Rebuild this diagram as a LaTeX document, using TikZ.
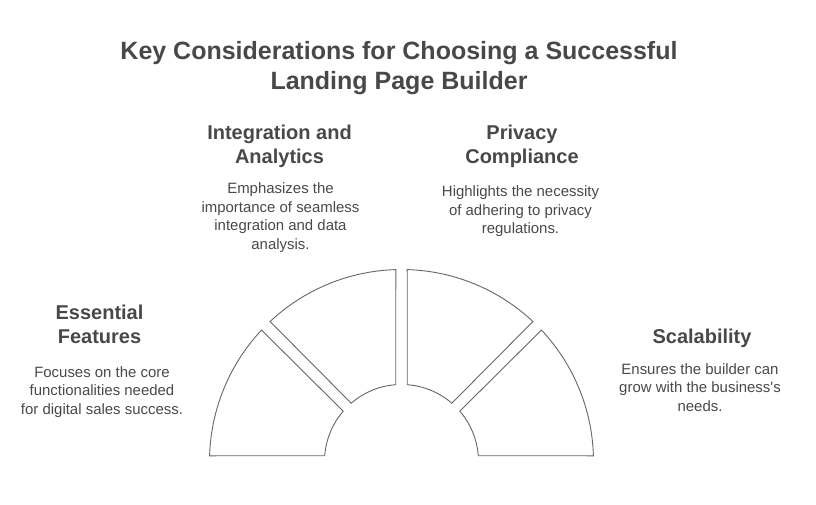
\documentclass[tikz,border=0pt]{standalone}
\usepackage{fontspec}
\setmainfont{Liberation Sans}
\definecolor{inktext}{HTML}{484848}
\definecolor{inkline}{HTML}{666666}
\tikzset{
    titletext/.style={text=inktext,align=center,font=\bfseries\fontsize{25}{30}\selectfont},
    headtext/.style={text=inktext,align=center,font=\bfseries\fontsize{20}{24}\selectfont},
    bodytext/.style={text=inktext,align=center,font=\fontsize{14.95}{18.5}\selectfont},
    sector/.style={draw=inkline,line width=0.9pt,line join=miter},
}

\begin{document}
\begin{tikzpicture}[x=1pt,y=1pt]
    \useasboundingbox (0,0) rectangle (816,505);

    % title
    \node[titletext] (title) at (399,437) {Key Considerations for Choosing a Successful\\Landing Page Builder};

    % headings and descriptions
    \node[headtext] (essential) at (99.5,181) {Essential\\Features};
    \node[bodytext] (essentialbody) at (102,113) {Focuses on the core\\functionalities needed\\for digital sales success.};
    \node[headtext] (integration) at (279.5,359) {Integration and\\Analytics};
    \node[bodytext] (integrationbody) at (280.5,287.5) {Emphasizes the\\importance of seamless\\integration and data\\analysis.};
    \node[headtext] (privacy) at (522,359) {Privacy\\Compliance};
    \node[bodytext] (privacybody) at (520.5,293.5) {Highlights the necessity\\of adhering to privacy\\regulations.};
    \node[headtext] (scalability) at (702,167) {Scalability};
    \node[bodytext] (scalabilitybody) at (700,117.5) {Ensures the builder can\\grow with the business\textquotesingle s\\needs.};

    % four ring pieces
    \foreach \a/\b/\c/\d in {178.3/136.8/139.2/175.7, 133.2/91.7/94.3/130.8, 88.3/46.8/49.2/85.7, 43.2/1.7/4.3/40.8}
        \draw[sector,shift={(401.5,43.5)}] (\a:192) arc[start angle=\a,end angle=\b,radius=192]
            -- (\c:77) arc[start angle=\c,end angle=\d,radius=77] -- cycle;
\end{tikzpicture}
\end{document}
